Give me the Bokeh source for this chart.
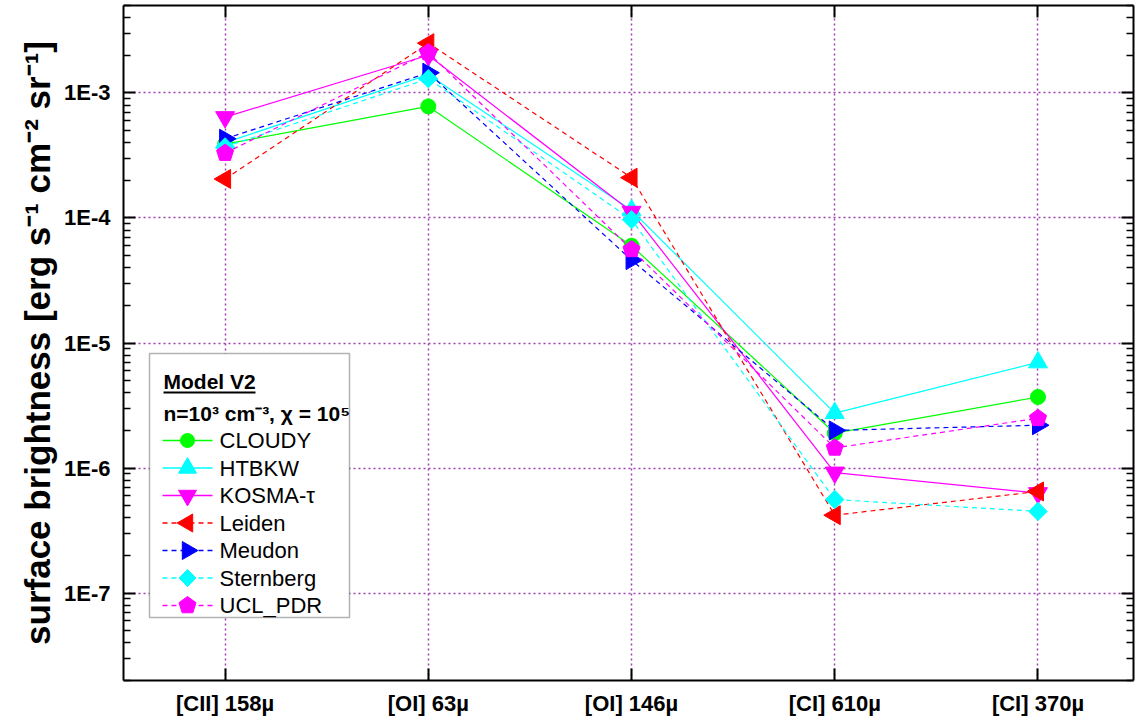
import math
from bokeh.plotting import figure
from bokeh.models import (FixedTicker, LinearAxis, LogAxis, CustomJSTickFormatter,
                          Label, BoxAnnotation, Range1d)
from bokeh.core.properties import value
from bokeh.embed import file_html
from bokeh.resources import INLINE

# ---- data ----
lines = ["[CII] 158µ", "[OI] 63µ", "[OI] 146µ", "[CI] 610µ", "[CI] 370µ"]
xpos = [1, 2, 3, 4, 5]
cloudy = [3.9e-4, 7.8e-4, 6.0e-5, 1.9e-6, 3.7e-6]
htbkw = [4.0e-4, 1.4e-3, 1.15e-4, 2.75e-6, 7.0e-6]
kosma = [6.4e-4, 2.0e-3, 1.12e-4, 9.2e-7, 6.3e-7]
leiden = [2.05e-4, 2.5e-3, 2.1e-4, 4.2e-7, 6.5e-7]
meudon = [4.3e-4, 1.45e-3, 4.6e-5, 2.0e-6, 2.2e-6]
sternberg = [3.7e-4, 1.3e-3, 9.7e-5, 5.6e-7, 4.5e-7]
ucl_pdr = [3.3e-4, 2.1e-3, 5.6e-5, 1.45e-6, 2.5e-6]

series = [
    ("CLOUDY", cloudy, "#00ff00", "solid", "circle", 15, 0.0),
    ("HTBKW", htbkw, "#00ffff", "solid", "triangle", 19, 0.0),
    ("KOSMA-τ", kosma, "#ff00ff", "solid", "inverted_triangle", 19, 0.0),
    ("Leiden", leiden, "#ff0000", "5 4", "triangle", 19, math.pi / 2),
    ("Meudon", meudon, "#0000ff", "5 4", "triangle", 19, -math.pi / 2),
    ("Sternberg", sternberg, "#00ffff", "5 4", "square", 13, math.pi / 4),
    ("UCL_PDR", ucl_pdr, "#ff00ff", "5 4", "pentagon", 9, 0.0),
]

FONT = "Liberation Sans"
GRID = "#a040b0"
INK = "black"

# frame geometry (pixels) and ranges
FL, FW, FB, FH = 123, 1010, 680, 675
X0, X1 = 0.5, 5.47
Y0, Y1 = 2e-8, 5e-3
LG0, LG1 = math.log10(Y0), math.log10(Y1)


def sx2x(px):
    return X0 + (px - FL) / FW * (X1 - X0)


def sy2y(py):
    return 10 ** (LG0 + (FB - py) / FH * (LG1 - LG0))


p = figure(width=1135, height=719, y_axis_type="log", output_backend="svg",
           toolbar_location=None, x_range=Range1d(X0, X1), y_range=Range1d(Y0, Y1),
           min_border_left=FL, min_border_right=2, min_border_top=5, min_border_bottom=39)
p.outline_line_color = None
p.background_fill_color = "white"
p.border_fill_color = "white"

major_y = [1e-7, 1e-6, 1e-5, 1e-4, 1e-3]
minor_y = [m * 10.0 ** e for e in range(-8, -2) for m in range(2, 10) if Y0 <= m * 10.0 ** e <= Y1]
blank = CustomJSTickFormatter(code="return '';")

# bottom axis
xa = p.xaxis[0]
xa.ticker = FixedTicker(ticks=xpos)
xa.formatter = CustomJSTickFormatter(args=dict(labels=lines), code="return labels[Math.round(tick)-1];")
xa.major_label_text_font = FONT
xa.major_label_text_font_style = "bold"
xa.major_label_text_font_size = "22px"
xa.major_label_text_color = INK
xa.major_label_standoff = 10
xa.major_tick_in = 12
xa.major_tick_out = 0
xa.minor_tick_line_color = None
xa.axis_line_width = 2
xa.major_tick_line_width = 2

# left axis
ya = p.yaxis[0]
ya.ticker = FixedTicker(ticks=major_y, minor_ticks=minor_y)
ya.formatter = CustomJSTickFormatter(code="return '1E' + Math.round(Math.log10(tick));")
ya.major_label_text_font = FONT
ya.major_label_text_font_style = "bold"
ya.major_label_text_font_size = "22px"
ya.major_label_text_color = INK
ya.major_label_standoff = 13
ya.major_tick_in = 12
ya.major_tick_out = 0
ya.minor_tick_in = 7
ya.minor_tick_out = 0
ya.axis_line_width = 2
ya.major_tick_line_width = 2
ya.minor_tick_line_width = 1.5
ya.axis_label = "surface brightness [erg s⁻¹ cm⁻² sr⁻¹]"
ya.axis_label_text_font = FONT
ya.axis_label_text_font_style = "bold"
ya.axis_label_text_font_size = "35px"
ya.axis_label_text_color = INK
ya.axis_label_standoff = 4

# top and right axes
top = LinearAxis(ticker=FixedTicker(ticks=xpos), formatter=blank,
                 major_tick_in=12, major_tick_out=0, minor_tick_line_color=None,
                 axis_line_width=2, major_tick_line_width=2, major_label_standoff=0)
p.add_layout(top, "above")
right = LogAxis(ticker=FixedTicker(ticks=major_y, minor_ticks=minor_y), formatter=blank,
                major_tick_in=12, major_tick_out=0, minor_tick_in=7, minor_tick_out=0,
                axis_line_width=2, major_tick_line_width=2, minor_tick_line_width=1.5,
                major_label_standoff=0)
p.add_layout(right, "right")

# grid
p.xgrid.ticker = FixedTicker(ticks=xpos)
p.ygrid.ticker = FixedTicker(ticks=major_y)
for g in (p.xgrid[0], p.ygrid[0]):
    g.grid_line_color = GRID
    g.grid_line_dash = "2 3"
    g.grid_line_width = 1.5
p.ygrid.minor_grid_line_color = None


def pentagons(x, y, r, color, level="glyph"):
    try:
        return p.ngon(x=x, y=y, radius=r, radius_units="screen", n=5, angle=0.0,
                      fill_color=color, line_color=color, level=level)
    except Exception:
        return p.scatter(x, y, marker="hex", size=2 * r, fill_color=color, line_color=color, level=level)


# data
for name, vals, color, dash, marker, size, ang in series:
    p.line(xpos, vals, line_color=color, line_width=1.2, line_dash=dash)
    if marker == "pentagon":
        pentagons(xpos, vals, size, color)
    else:
        p.scatter(xpos, vals, marker=marker, size=size, angle=ang, fill_color=color, line_color=color)

# legend frame and header
box = BoxAnnotation(left=149 - FL, right=349 - FL, top=FB - 353, bottom=FB - 617,
                    left_units="screen", right_units="screen", top_units="screen", bottom_units="screen",
                    fill_color="white", fill_alpha=1.0, line_color="black", line_width=1.5)
p.add_layout(box)
p.add_layout(Label(x=163 - FL, y=FB - 381, x_units="screen", y_units="screen", text="Model V2",
                   text_font=FONT, text_font_style="bold", text_font_size="21px",
                   text_color=INK, text_baseline="middle"))
ul = BoxAnnotation(left=163 - FL, right=255 - FL, top=FB - 391, bottom=FB - 393,
                   left_units="screen", right_units="screen", top_units="screen", bottom_units="screen",
                   fill_color="black", fill_alpha=1.0, line_color=None)
p.add_layout(ul)
p.add_layout(Label(x=163 - FL, y=FB - 412.5, x_units="screen", y_units="screen", text="n=10³ cm⁻³, χ = 10⁵",
                   text_font=FONT, text_font_style="bold", text_font_size="21px",
                   text_color=INK, text_baseline="middle"))

# legend entries
row0, pitch = 440, 27.5
for i, (name, vals, color, dash, marker, size, ang) in enumerate(series):
    py = row0 + i * pitch
    yy = sy2y(py)
    p.line([sx2x(162), sx2x(212)], [yy, yy], line_color=color, line_width=1.5, line_dash=dash,
           level="overlay")
    if marker == "pentagon":
        pentagons([sx2x(187)], [yy], size, color, level="overlay")
    else:
        p.scatter([sx2x(187)], [yy], marker=marker, size=size - 1, angle=ang,
                  fill_color=color, line_color=color, level="overlay")
    p.add_layout(Label(x=219 - FL, y=FB - py, x_units="screen", y_units="screen", text=name,
                       text_font=FONT, text_font_size="22px", text_color=INK, text_baseline="middle"))

open("out.html", "w").write(file_html(p, INLINE))
